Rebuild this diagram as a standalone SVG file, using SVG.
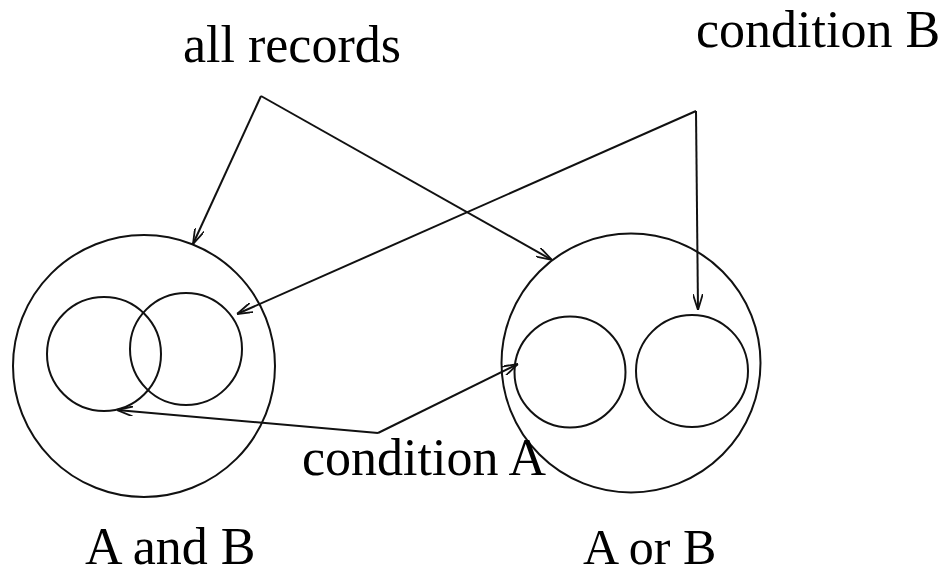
<svg xmlns="http://www.w3.org/2000/svg" width="944" height="576" viewBox="0 0 944 576">
<defs>
<style>
.c{fill:none;stroke:#111;stroke-width:2}
.l{fill:none;stroke:#111;stroke-width:2;stroke-linejoin:miter}
.t{font-family:"Liberation Serif","Times New Roman",serif;font-size:52px;fill:#000}
</style>
<marker id="ah" viewBox="0 0 16 10" refX="16" refY="5" markerWidth="16" markerHeight="10" markerUnits="userSpaceOnUse" orient="auto">
<path d="M0,0 L16,5 L0,10" fill="none" stroke="#111" stroke-width="1.8"/>
</marker>
</defs>
<rect width="944" height="576" fill="#fff"/>
<g id="and-set">
<circle class="c" cx="144" cy="366" r="131"/>
<circle class="c" cx="104" cy="354" r="57"/>
<circle class="c" cx="186" cy="349" r="56"/>
</g>
<g id="or-set">
<circle class="c" cx="631" cy="363" r="129.5"/>
<circle class="c" cx="570" cy="372" r="55.5"/>
<circle class="c" cx="692" cy="371" r="56"/>
</g>
<g id="connectors">
<path class="l" d="M261,96 L193,244" marker-end="url(#ah)"/>
<path class="l" d="M261,96 L552,260" marker-end="url(#ah)"/>
<path class="l" d="M696,111 L237,314" marker-end="url(#ah)"/>
<path class="l" d="M696,111 L698,310" marker-end="url(#ah)"/>
<path class="l" d="M378,433 L117,410" marker-end="url(#ah)"/>
<path class="l" d="M378,433 L518,364" marker-end="url(#ah)"/>
</g>
<g id="label-all-records"><text class="t" x="183" y="62">all records</text></g>
<g id="label-condition-b"><text class="t" x="696" y="47">condition B</text></g>
<g id="label-condition-a"><text class="t" x="302" y="475">condition A</text></g>
<g id="label-a-and-b"><text class="t" x="85" y="564">A and B</text></g>
<g id="label-a-or-b"><text class="t" x="583" y="564" style="font-size:50px">A or B</text></g>
</svg>
